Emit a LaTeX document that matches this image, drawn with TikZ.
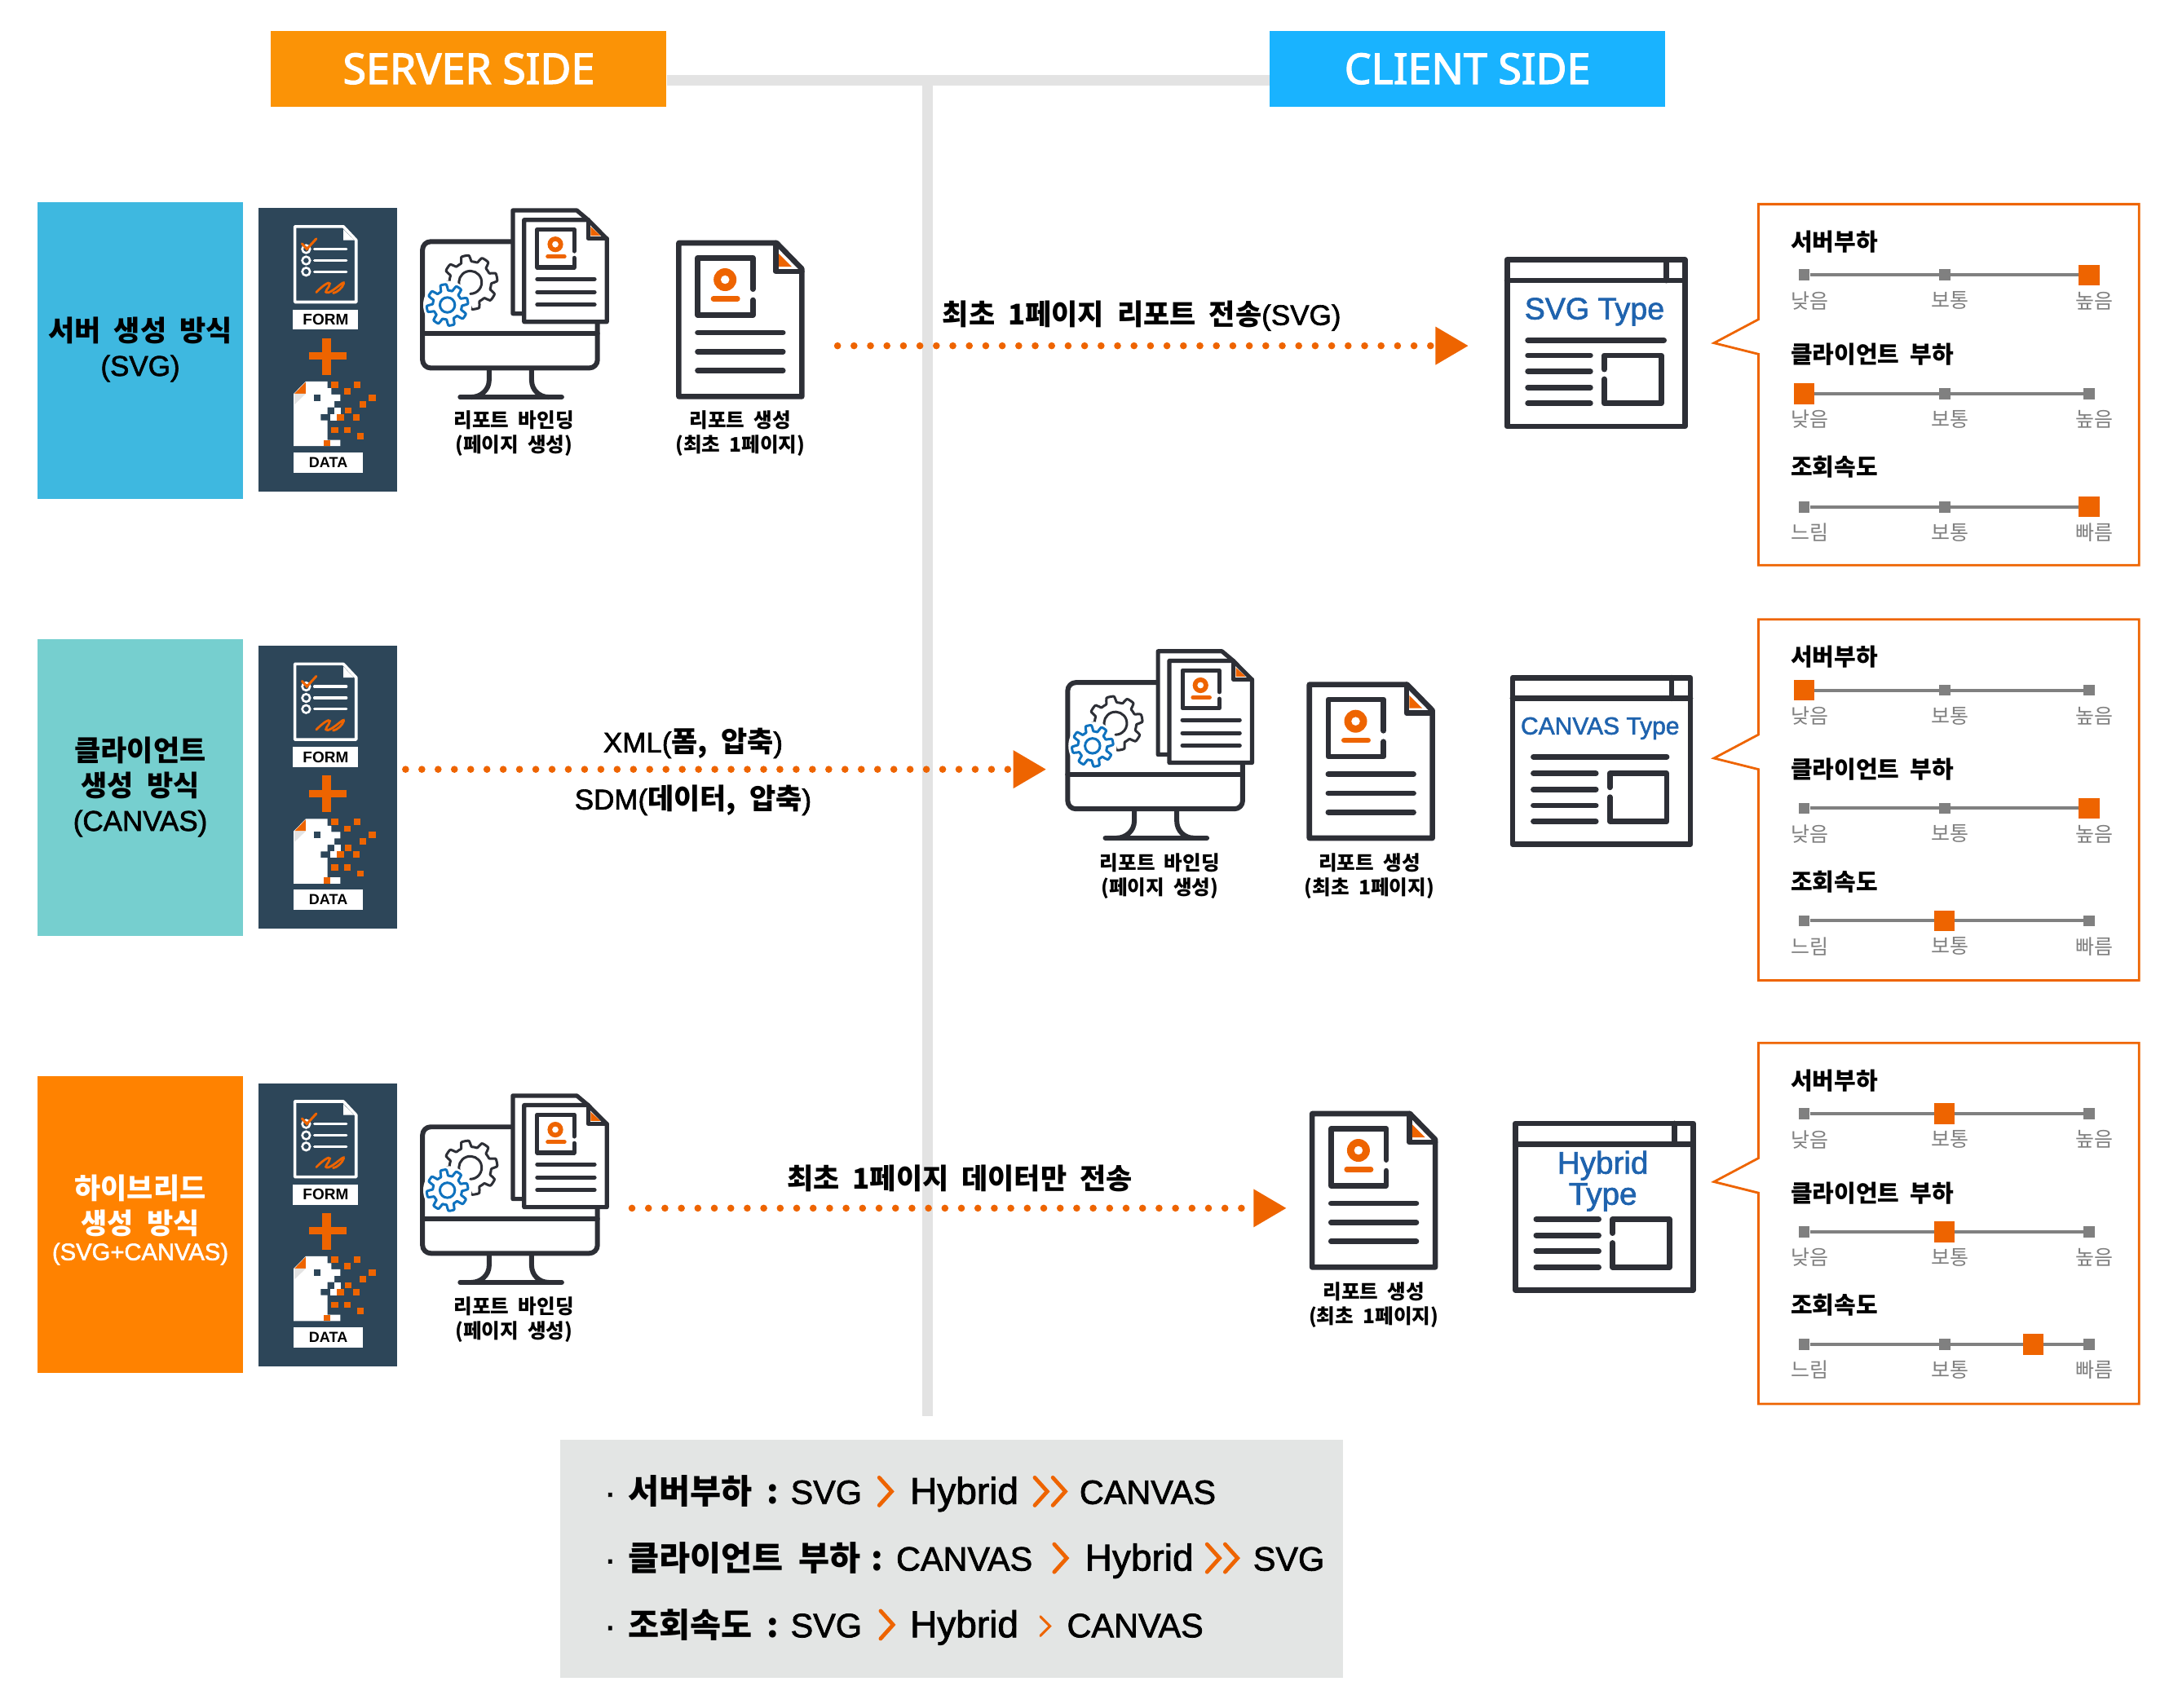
\documentclass[tikz,border=0pt]{standalone}
\usepackage{fontspec}
\setmainfont{Liberation Sans}
\newfontfamily\kr[WordSpace=2]{Noto Sans CJK KR}
\newfontfamily\med[FakeBold=1.8]{Liberation Sans}
\newfontfamily\headfont[FakeBold=2.4]{Noto Sans}
\usetikzlibrary{arrows.meta}
\newcommand{\hg}[1]{{\kr\bfseries #1}}
\definecolor{accent}{HTML}{EE6400}
\definecolor{icondark}{HTML}{2D2F36}
\definecolor{paneldark}{HTML}{2D4659}
\definecolor{gearblue}{HTML}{0F72BE}
\definecolor{typeblue}{HTML}{1F63AE}
\definecolor{axisgray}{HTML}{E3E3E3}
\definecolor{ticksgray}{HTML}{808080}
\tikzset{
  headbox/.style={minimum width=242.6pt, minimum height=46.8pt, inner sep=0pt, text=white, font=\headfont\fontsize{26}{28}\selectfont},
  axisline/.style={draw=axisgray, line width=6.4pt},
  rowbox/.style={minimum width=126pt, minimum height=182pt, inner sep=0pt, align=center},
  rowtext/.style={font=\med\fontsize{17.5}{21.5}\selectfont},
  iconline/.style={draw=icondark, line width=3.3pt, line cap=round, line join=round},
  winline/.style={draw=icondark, line width=3.4pt, line cap=round, line join=round},
  whiteline/.style={draw=white, line width=1.6pt, line cap=round},
  dotarrow/.style={draw=accent, line width=4.3pt, line cap=round, dash pattern=on 0pt off 10.1pt, -{Triangle[length=20pt, width=23.5pt, line width=0pt]}},
  arrowlabel/.style={font=\med\fontsize{17.5}{20}\selectfont},
  iconlabel/.style={font=\kr\bfseries\fontsize{12.3}{15}\selectfont, align=center},
  typetext/.style={text=typeblue, inner sep=0pt, align=center},
  ratingbox/.style={draw=accent, line width=1.4pt, line join=miter},
  ratingtitle/.style={anchor=west, inner sep=0pt, font=\kr\bfseries\fontsize{14.5}{16}\selectfont},
  ratinglabel/.style={inner sep=0pt, text=ticksgray, font=\kr\fontsize{12.5}{14}\selectfont},
  tickmark/.style={fill=ticksgray, minimum size=6.8pt, inner sep=0pt},
  ratemark/.style={fill=accent, minimum size=12.7pt, inner sep=0pt},
  tickline/.style={draw=ticksgray, line width=2pt},
  summarytext/.style={anchor=base west, inner sep=0pt, font=\med\fontsize{20.7}{24}\selectfont},
  summarywide/.style={summarytext, font=\med\fontsize{23}{24}\selectfont},
  chevronline/.style={draw=accent, line width=2.4pt, line cap=round, line join=miter},
}
% form + data panel, x y
\newcommand{\formdatapanel}[2]{%
\begin{scope}[shift={(#1,#2)},x=0.2307pt,y=-0.1667pt,shift={(-36,-48)}]
\fill[paneldark] (36,48) rectangle (404,1090);
\draw[draw=white, line width=1.8pt, line join=round, fill=paneldark] (133,115) -- (262,115) -- (296,165) -- (296,393) -- (133,393) -- cycle;
\fill[white] (262,125) -- (262,165) -- (290,165) -- cycle;
\foreach \y in {198,240,281} {
  \draw[whiteline] (185,\y) -- (270,\y);
  \draw[draw=white, line width=1.3pt] (163,\y) circle[radius=2.4pt];
}
\draw[draw=accent, line width=1.5pt, line cap=round] (152,178) -- (165,198) -- (190,160);
\draw[draw=accent, line width=1.4pt, line cap=round] (190,357) .. controls (205,335) and (225,315) .. (226,325) .. controls (226,340) and (205,360) .. (222,358) .. controls (240,350) and (265,310) .. (263,325) .. controls (260,340) and (245,358) .. (235,360);
\fill[accent] (206,525) rectangle (230,660);
\fill[accent] (170,578) rectangle (270,605);
\fill[white] (162,685) -- (220,685) -- (220,710) -- (230,710) -- (230,733) -- (254,733) -- (254,757) -- (238,757) -- (238,780) -- (220,780) -- (220,805) -- (202,805) -- (202,828) -- (220,828) -- (220,900) -- (254,900) -- (254,923) -- (130,923) -- (130,730) -- cycle;
\fill[accent] (162,687) -- (132,730) -- (162,730) -- cycle;
\fill[axisgray] (132,730) -- (162,730) -- (132,770) -- cycle;
\fill[paneldark] (184,733) rectangle +(18,24);
\fill[white] (238,780) rectangle +(18,24);
\fill[white] (228,805) rectangle +(17,24);
\foreach \a/\b in {230/685,290/685,264/710,330/733,305/757,266/780,245/805,288/805,230/852,264/852,298/875,210/900}
  \fill[accent] (\a,\b) rectangle +(18,23);
\node[fill=white, minimum width=40pt, minimum height=12.3pt, inner sep=0pt, font=\bfseries\fontsize{9.5}{10}\selectfont] (form_label_#1_#2) at (215,458) {FORM};
\node[fill=white, minimum width=42.4pt, minimum height=12.5pt, inner sep=0pt, font=\bfseries\fontsize{9}{10}\selectfont] (data_label_#1_#2) at (222,983) {DATA};
\end{scope}}
% gear: cx cy base radius colour
\newcommand{\gearshape}[4]{%
\draw[draw=#4, line width=1.5pt, line join=round, fill=white, shift={(#1,#2)}] plot[domain=0:360, samples=145] (\x:{(#3+1.9*max(-1,min(1,2.5*sin(8*\x))))*1pt}) -- cycle;}
% monitor with two pages, x y
\newcommand{\monitoricon}[2]{%
\begin{scope}[shift={(#1,#2)},x=0.2307pt,y=-0.1667pt,shift={(-465,-50)}]
\draw[iconline, line width=3pt, rounded corners=5pt] (715,170) -- (475,170) -- (475,635) -- (940,635) -- (940,470);
\draw[iconline, line width=3pt] (475,508) -- (940,508);
\draw[iconline, line width=3pt] (652,640) -- (652,680) .. controls (652,715) and (630,742) .. (605,742);
\draw[iconline, line width=3pt] (765,640) -- (765,680) .. controls (765,715) and (785,742) .. (810,742);
\draw[iconline, line width=3pt] (575,742) -- (845,742);
\gearshape{602}{320}{14.7}{icondark}
\draw[draw=icondark, line width=1.5pt, line cap=round] (602,320) ++(200:7pt) arc[start angle=200, end angle=-90, radius=7pt];
\fill[white] (541,403) circle[radius=14.8pt];
\gearshape{541}{403}{10.8}{gearblue}
\draw[draw=gearblue, line width=1.5pt] (541,403) circle[radius=4.6pt];
\draw[iconline, line width=2.6pt, fill=white] (715,435) -- (715,55) -- (885,55) -- (915,90) -- (915,435) -- cycle;
\draw[iconline, line width=2.6pt, fill=white] (745,90) -- (915,90) -- (965,160) -- (965,465) -- (745,465) -- cycle;
\draw[iconline, line width=2.6pt] (915,90) -- (915,158) -- (965,158);
\fill[accent] (922,115) -- (922,148) -- (948,148) -- cycle;
\draw[iconline, line width=2.6pt] (878,205) -- (878,125) -- (780,125) -- (780,265) -- (878,265) -- (878,230);
\fill[accent, even odd rule] (828,180) circle[radius=4.8pt] (828,180) circle[radius=2pt];
\draw[draw=accent, line width=2.6pt, line cap=round] (808,225) -- (852,225);
\foreach \y in {308,356,402} \draw[iconline, line width=2.6pt] (780,\y) -- (932,\y);
\end{scope}}
% report page, x y
\newcommand{\reporticon}[2]{%
\begin{scope}[shift={(#1,#2)},x=0.2307pt,y=-0.1667pt,shift={(-1150,-165)}]
\draw[iconline] (1160,175) -- (1420,175) -- (1487,270) -- (1487,740) -- (1160,740) -- cycle;
\draw[iconline] (1418,175) -- (1418,280) -- (1487,280);
\fill[accent] (1426,215) -- (1426,262) -- (1460,262) -- cycle;
\draw[iconline] (1357,345) -- (1357,230) -- (1210,230) -- (1210,440) -- (1357,440) -- (1357,385);
\fill[accent, even odd rule] (1283,310) circle[radius=7pt] (1283,310) circle[radius=2.7pt];
\draw[draw=accent, line width=3.2pt, line cap=round] (1252,380) -- (1316,380);
\foreach \y in {505,575,645} \draw[iconline] (1210,\y) -- (1437,\y);
\end{scope}}
% type window, x y
\newcommand{\typewindow}[2]{%
\begin{scope}[shift={(#1,#2)}]
\draw[winline, fill=white] (2,2) rectangle (130,122);
\draw[winline] (2,17) -- (130,17);
\draw[winline] (116.5,2) -- (116.5,17);
\foreach \y in {71,82.5,94,105.5} \draw[winline] (17,\y) -- (62,\y);
\draw[winline] (72,81) -- (72,71) -- (113,71) -- (113,105.5) -- (72,105.5) -- (72,88);
\end{scope}}
% rating box with notch, top y
\newcommand{\ratingframe}[1]{%
\draw[ratingbox] (1266,#1) -- (1540,#1) -- (1540,#1+260) -- (1266,#1+260) -- (1266,#1+108) -- (1234,#1+100) -- (1266,#1+83) -- cycle;}
% one rating line: name, title y, slider y, title, mark x, three labels
\newcommand{\ratingline}[8]{%
\node[ratingtitle] (#1_title) at (1289,#2) {#4};
\node[tickmark] (#1_low) at (1299,#3) {};
\node[tickmark] (#1_mid) at (1400,#3) {};
\node[tickmark] (#1_high) at (1504,#3) {};
\draw[tickline] (#1_low) -- (#1_high);
\node[ratemark] (#1_mark) at (#5,#3) {};
\node[ratinglabel] (#1_label_low) at (1303,#3+18.5) {#6};
\node[ratinglabel] (#1_label_mid) at (1404,#3+18.5) {#7};
\node[ratinglabel] (#1_label_high) at (1508,#3+18.5) {#8};}

\begin{document}
\begin{tikzpicture}[x=0.8517pt,y=-0.8517pt]
\useasboundingbox (0,0) rectangle (1568.1,1229.9);
\fill[white] (0,0) rectangle (1568.1,1229.9);

\node[headbox, fill={rgb,255:red,251;green,147;blue,6}] (server_side) at (337.5,49.5) {SERVER SIDE};
\node[headbox, fill={rgb,255:red,25;green,179;blue,255}] (client_side) at (1056.5,49.5) {CLIENT SIDE};
\coordinate (axis_top) at (668,58);
\coordinate (axis_bottom) at (668,1020);
\draw[axisline] (server_side.east |- axis_top) -- (client_side.west |- axis_top);
\draw[axisline] (axis_top) -- (axis_bottom);

% row 1
\node[rowbox, fill={rgb,255:red,62;green,184;blue,224}] (row_svg) at (101,252.5) {};
\node[rowtext] (row_svg_text) at (101,251.5) [align=center] {\hg{서버 생성 방식}\\(SVG)};
\formdatapanel{186}{150}
\monitoricon{301.5}{150.5}
\reporticon{486}{173}
\node[iconlabel] (bind_svg) at (370,312) {리포트 바인딩\\(페이지 생성)};
\node[iconlabel] (make_svg) at (533,312) {리포트 생성\\(최초 1페이지)};
\coordinate (arrow_svg_start) at (603,249);
\coordinate (arrow_svg_end) at (1057,249);
\draw[dotarrow] (arrow_svg_start) -- (arrow_svg_end);
\node[arrowlabel] (arrow_svg_label) at (822,227.5) {\hg{최초 1페이지 리포트 전송}(SVG)};
\typewindow{1083}{185}
\node[typetext, font=\med\fontsize{18.8}{22}\selectfont] (type_svg) at (1148,224.5) {SVG Type};
\draw[winline] (1100,245) -- (1198,245);
\ratingframe{147}
\ratingline{svg_server}{174}{198}{서버부하}{1504}{낮음}{보통}{높음}
\ratingline{svg_client}{255}{283.5}{클라이언트 부하}{1299}{낮음}{보통}{높음}
\ratingline{svg_speed}{336}{365}{조회속도}{1504}{느림}{보통}{빠름}

% row 2
\node[rowbox, fill={rgb,255:red,118;green,207;blue,207}] (row_canvas) at (101,567) {};
\node[rowtext] (row_canvas_text) at (101,566.5) [align=center] {\hg{클라이언트}\\\hg{생성 방식}\\(CANVAS)};
\formdatapanel{186}{465}
\coordinate (arrow_canvas_start) at (292,554);
\coordinate (arrow_canvas_end) at (753,554);
\draw[dotarrow, dash pattern=on 0pt off 9.98pt] (arrow_canvas_start) -- (arrow_canvas_end);
\node[arrowlabel] (arrow_canvas_form) at (499,535.5) {XML(\hg{폼, 압축})};
\node[arrowlabel] (arrow_canvas_data) at (499,576.5) {SDM(\hg{데이터, 압축})};
\monitoricon{766}{468}
\reporticon{940}{491}
\node[iconlabel] (bind_canvas) at (835,631) {리포트 바인딩\\(페이지 생성)};
\node[iconlabel] (make_canvas) at (986,631) {리포트 생성\\(최초 1페이지)};
\typewindow{1087}{486}
\node[typetext, font=\med\fontsize{15}{18}\selectfont] (type_canvas) at (1152,524.5) {CANVAS Type};
\draw[winline] (1104,545) -- (1200,545);
\ratingframe{446}
\ratingline{canvas_server}{473}{497}{서버부하}{1299}{낮음}{보통}{높음}
\ratingline{canvas_client}{554}{582}{클라이언트 부하}{1504}{낮음}{보통}{높음}
\ratingline{canvas_speed}{635}{663}{조회속도}{1400}{느림}{보통}{빠름}

% row 3
\node[rowbox, fill={rgb,255:red,255;green,130;blue,0}] (row_hybrid) at (101,881.5) {};
\node[rowtext, text=white] (row_hybrid_text) at (101,868) [align=center] {\hg{하이브리드}\\\hg{생성 방식}};
\node[text=white, inner sep=0pt, font=\med\fontsize{14.6}{16}\selectfont] (row_hybrid_sub) at (101,903) {(SVG+CANVAS)};
\formdatapanel{186}{780}
\monitoricon{301.5}{788}
\reporticon{942}{800}
\node[iconlabel] (bind_hybrid) at (370,950) {리포트 바인딩\\(페이지 생성)};
\node[iconlabel] (make_hybrid) at (989,939.5) {리포트 생성\\(최초 1페이지)};
\coordinate (arrow_hybrid_start) at (455,870);
\coordinate (arrow_hybrid_end) at (926,870);
\draw[dotarrow] (arrow_hybrid_start) -- (arrow_hybrid_end);
\node[arrowlabel] (arrow_hybrid_label) at (691,848.5) {\hg{최초 1페이지 데이터만 전송}};
\typewindow{1089}{807}
\node[typetext, font=\med\fontsize{19.3}{19}\selectfont] (type_hybrid) at (1154,850.5) {Hybrid\\Type};
\ratingframe{751}
\ratingline{hybrid_server}{778}{802}{서버부하}{1400}{낮음}{보통}{높음}
\ratingline{hybrid_client}{859}{887}{클라이언트 부하}{1400}{낮음}{보통}{높음}
\ratingline{hybrid_speed}{940}{968}{조회속도}{1464}{느림}{보통}{빠름}

% summary
\node[fill={rgb,255:red,227;green,229;blue,228}, minimum width=480pt, minimum height=145.6pt, inner sep=0pt] (summary_box) at (685,1122.5) {};
\node[summarytext] (server_dot) at (435,1083) {·};
\node[summarytext] (server_name) at (452,1083) {\hg{서버부하}};
\node[summarytext] (server_colon) at (552,1083) {\hg{:}};
\node[summarytext] (server_a) at (569,1083) {SVG};
\draw[chevronline] (633,1064) -- (642,1074) -- (633,1084);
\node[summarywide] (server_b) at (655,1083) {Hybrid};
\draw[chevronline] (745,1064) -- (754,1074) -- (745,1084);
\draw[chevronline] (758,1064) -- (767,1074) -- (758,1084);
\node[summarytext] (server_c) at (777,1083) {CANVAS};
\node[summarytext] (client_dot) at (435,1131) {·};
\node[summarytext] (client_name) at (452,1131) {\hg{클라이언트 부하}};
\node[summarytext] (client_colon) at (627,1131) {\hg{:}};
\node[summarytext] (client_a) at (645,1131) {CANVAS};
\draw[chevronline] (759,1112) -- (768,1122) -- (759,1132);
\node[summarywide] (client_b) at (781,1131) {Hybrid};
\draw[chevronline] (869,1112) -- (878,1122) -- (869,1132);
\draw[chevronline] (882,1112) -- (891,1122) -- (882,1132);
\node[summarytext] (client_c) at (902,1131) {SVG};
\node[summarytext] (speed_dot) at (435,1179) {·};
\node[summarytext] (speed_name) at (452,1179) {\hg{조회속도}};
\node[summarytext] (speed_colon) at (552,1179) {\hg{:}};
\node[summarytext] (speed_a) at (569,1179) {SVG};
\draw[chevronline] (634,1160) -- (643,1170) -- (634,1180);
\node[summarywide] (speed_b) at (655,1179) {Hybrid};
\draw[chevronline, line width=1.5pt] (749,1164) -- (756,1171) -- (749,1178);
\node[summarytext] (speed_c) at (768,1179) {CANVAS};
\end{tikzpicture}
\end{document}
